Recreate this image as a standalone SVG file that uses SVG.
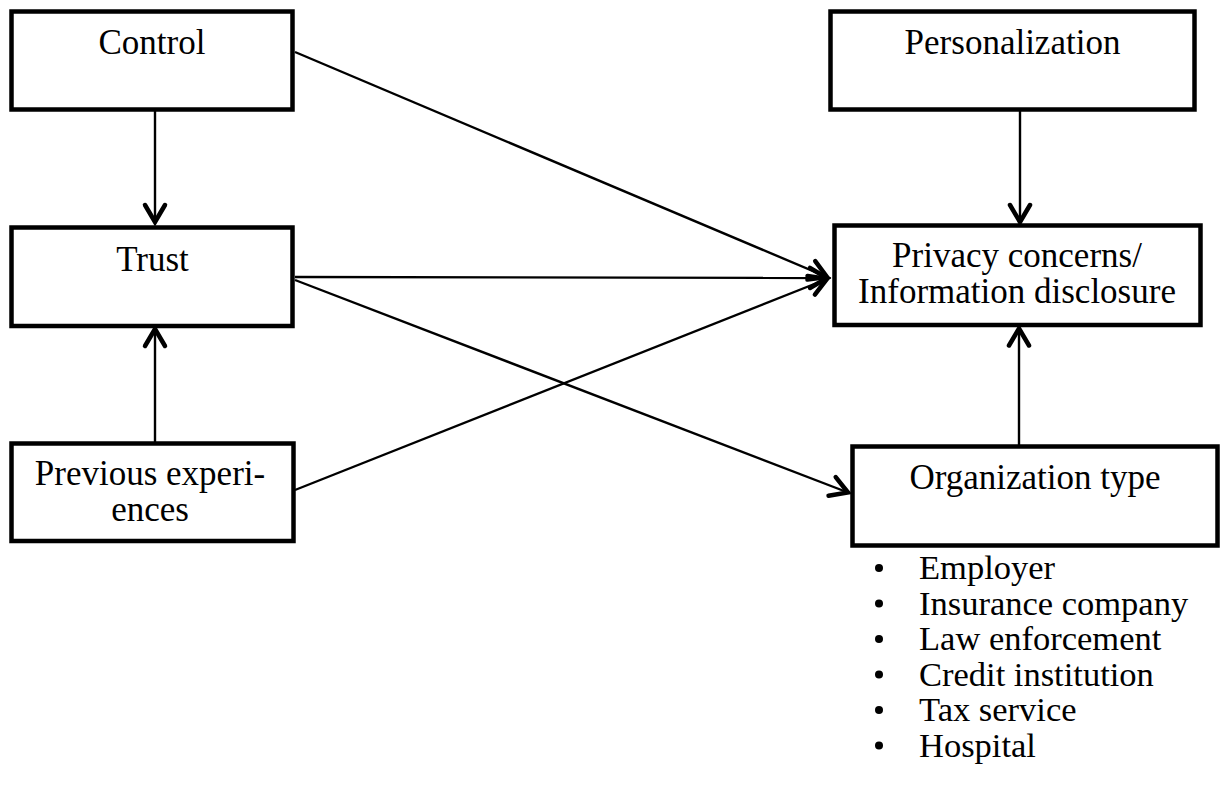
<svg xmlns="http://www.w3.org/2000/svg" width="1220" height="792" viewBox="0 0 1220 792">
  <style>
    .box { fill: #ffffff; stroke: #000000; stroke-width: 4.5; }
    .lbl { font-family: "Liberation Serif", "Times New Roman", serif; font-size: 35px; fill: #000000; text-anchor: middle; }
    .item { font-family: "Liberation Serif", "Times New Roman", serif; font-size: 34.5px; fill: #000000; }
    .dot { fill: #000000; }
    .edge { fill: none; stroke: #000000; stroke-width: 2.4; marker-end: url(#chev); }
  </style>
  <defs>
    <!-- open chevron arrowhead, tip at the end of the line -->
    <marker id="chev" markerUnits="userSpaceOnUse" viewBox="-22 -14 26 28" refX="0" refY="0" markerWidth="26" markerHeight="28" orient="auto" overflow="visible">
      <path d="M-17,-10 L0,0 L-17,10" fill="none" stroke="#000000" stroke-width="4.5" stroke-linecap="round" stroke-linejoin="miter"/>
    </marker>
  </defs>
  <rect width="1220" height="792" fill="#ffffff"/>

  <g id="connectors">
    <line class="edge" x1="155" y1="111" x2="155" y2="222"/>
    <line class="edge" x1="155" y1="442" x2="155" y2="329"/>
    <line class="edge" x1="295" y1="52" x2="827" y2="277"/>
    <line class="edge" x1="295" y1="277" x2="827" y2="278"/>
    <line class="edge" x1="295" y1="490" x2="827" y2="279"/>
    <line class="edge" x1="295" y1="280" x2="848" y2="492.5"/>
    <line class="edge" x1="1020" y1="111" x2="1020" y2="222"/>
    <line class="edge" x1="1019" y1="445" x2="1019" y2="328.5"/>
  </g>

  <g id="control">
    <rect class="box" x="11.5" y="11.5" width="281" height="98"/>
    <text class="lbl" x="152" y="54">Control</text>
  </g>

  <g id="personalization">
    <rect class="box" x="830.5" y="11.5" width="364" height="98"/>
    <text class="lbl" x="1012.5" y="54">Personalization</text>
  </g>

  <g id="trust">
    <rect class="box" x="11.5" y="227.5" width="281" height="98.5"/>
    <text class="lbl" x="152.5" y="271">Trust</text>
  </g>

  <g id="privacy">
    <rect class="box" x="834.5" y="225.5" width="366" height="99.5"/>
    <text class="lbl" x="1017" y="267">Privacy concerns/</text>
    <text class="lbl" x="1017" y="303">Information disclosure</text>
  </g>

  <g id="previous-experiences">
    <rect class="box" x="11.5" y="443.5" width="282" height="97.5"/>
    <text class="lbl" x="150" y="485">Previous experi-</text>
    <text class="lbl" x="150" y="521">ences</text>
  </g>

  <g id="organization-type">
    <rect class="box" x="852.5" y="446.5" width="365" height="99"/>
    <text class="lbl" x="1035" y="489">Organization type</text>
  </g>

  <g id="organization-list">
    <circle class="dot" cx="879" cy="568" r="4"/>
    <text class="item" x="919" y="579">Employer</text>
    <circle class="dot" cx="879" cy="603.5" r="4"/>
    <text class="item" x="919" y="614.5">Insurance company</text>
    <circle class="dot" cx="879" cy="639" r="4"/>
    <text class="item" x="919" y="650">Law enforcement</text>
    <circle class="dot" cx="879" cy="674.5" r="4"/>
    <text class="item" x="919" y="685.5">Credit institution</text>
    <circle class="dot" cx="879" cy="710" r="4"/>
    <text class="item" x="919" y="721">Tax service</text>
    <circle class="dot" cx="879" cy="745.5" r="4"/>
    <text class="item" x="919" y="756.5">Hospital</text>
  </g>
</svg>
